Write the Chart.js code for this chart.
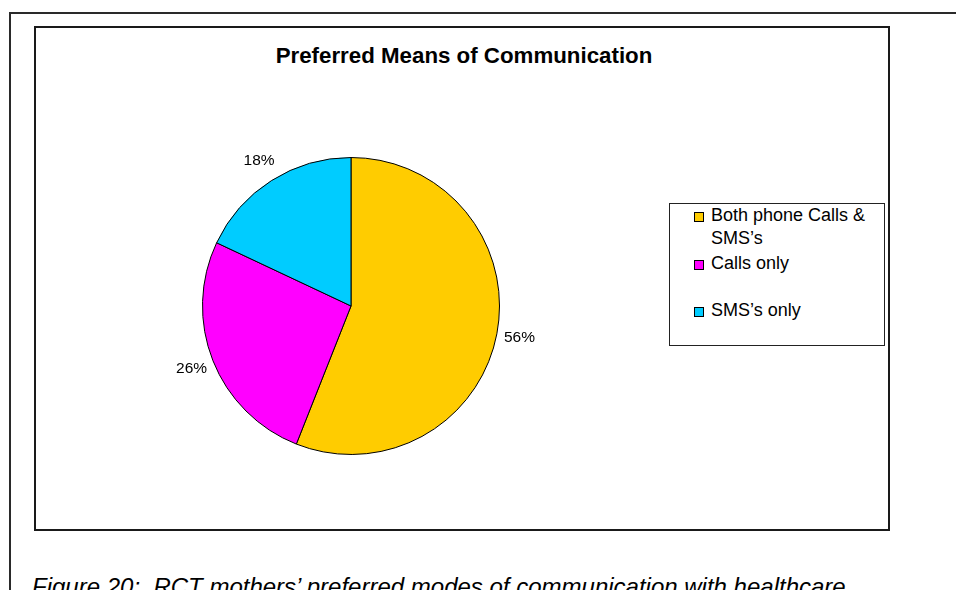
<!DOCTYPE html>
<html>
<head>
<meta charset="utf-8">
<title>Preferred Means of Communication</title>
<script src="https://cdn.jsdelivr.net/npm/chart.js@4/dist/chart.umd.min.js"></script>
<style>
  html, body { margin: 0; padding: 0; background: #fff; }
  body { width: 956px; height: 590px; position: relative; overflow: hidden;
         font-family: "Liberation Sans", Arial, sans-serif; color: #000; }
  .page-frame { position: absolute; left: 9px; top: 12px; width: 960px; height: 600px;
                border-top: 2px solid #2a2a2a; border-left: 2px solid #2a2a2a; }
  .chart-box { position: absolute; left: 34px; top: 26px; width: 852px; height: 501px;
               border: 2px solid #1a1a1a; }
  .chart-title { position: absolute; left: 34px; width: 860px; top: 43px; text-align: center;
                 font-size: 22.3px; font-weight: bold; line-height: 26px; }
  #pieWrap { position: absolute; left: 131px; top: 86px; width: 440px; height: 440px; }
  .legend { position: absolute; left: 669px; top: 203px; width: 216px; height: 143px;
            border: 1px solid #222; box-sizing: border-box; }
  .legend-item { position: absolute; left: 24px; width: 180px; }
  .legend-swatch { position: absolute; left: 0; width: 8px; height: 8px; border: 1px solid #000; }
  .legend-text { position: absolute; left: 17px; width: 168px; font-size: 18px; line-height: 22.6px; }
  .caption { position: absolute; left: 32px; top: 575px; font-size: 24px; font-style: italic;
             line-height: 24px; white-space: nowrap; }
</style>
</head>
<body>
<div class="page-frame"></div>
<div class="chart-box"></div>
<div class="chart-title">Preferred Means of Communication</div>
<div id="pieWrap"><canvas id="js-chartjs-pie" width="440" height="440"></canvas></div>
<div class="legend" id="js-legend"></div>
<div class="caption">Figure 20:&nbsp; RCT mothers’ preferred modes of communication with healthcare</div>

<script>
// Survey answers, in percent
const categories = ['Both phone Calls & SMS’s', 'Calls only', 'SMS’s only'];
const percentages = [56, 26, 18];
const sliceColors = ['#FFCC00', '#FF00FF', '#00CCFF'];

// Legend rows are spread evenly down the box
const legendRowTops = [0, 47.5, 95];

// Writes "NN%" just outside each slice, along its middle angle
const outsideLabels = {
  id: 'outsideLabels',
  afterDatasetsDraw(chart) {
    const ctx = chart.ctx;
    const meta = chart.getDatasetMeta(0);
    const values = chart.data.datasets[0].data;
    ctx.save();
    ctx.font = '15.5px "Liberation Sans", Arial, sans-serif';
    ctx.fillStyle = '#000';
    ctx.textAlign = 'center';
    ctx.textBaseline = 'middle';
    meta.data.forEach((arc, i) => {
      const p = arc.getProps(['x', 'y', 'startAngle', 'endAngle', 'outerRadius'], true);
      const mid = (p.startAngle + p.endAngle) / 2;
      const dist = p.outerRadius + 23;
      ctx.fillText(values[i] + '%', p.x + Math.cos(mid) * dist, p.y + Math.sin(mid) * dist);
    });
    ctx.restore();
  }
};

function buildLegend(chart) {
  const box = document.getElementById('js-legend');
  const colors = chart.data.datasets[0].backgroundColor;
  chart.data.labels.forEach((label, i) => {
    const row = document.createElement('div');
    row.className = 'legend-item';
    row.style.top = legendRowTops[i] + 'px';

    const sw = document.createElement('div');
    sw.className = 'legend-swatch';
    sw.style.top = '8px';
    sw.style.background = colors[i];

    const txt = document.createElement('div');
    txt.className = 'legend-text';
    txt.textContent = label;

    row.appendChild(sw);
    row.appendChild(txt);
    box.appendChild(row);
  });
}

const pieCon = document.getElementById('js-chartjs-pie');
const chartPie = new Chart(pieCon, {
  type: 'pie',
  data: {
    labels: categories,
    datasets: [{
      data: percentages,
      backgroundColor: sliceColors,
      borderColor: '#000',
      borderWidth: 1,
      hoverOffset: 0
    }]
  },
  options: {
    responsive: false,
    animation: false,
    radius: 148.5,
    layout: { padding: 0 },
    plugins: {
      legend: { display: false },
      tooltip: { enabled: false },
      title: { display: false }
    }
  },
  plugins: [outsideLabels]
});

buildLegend(chartPie);
</script>
</body>
</html>
